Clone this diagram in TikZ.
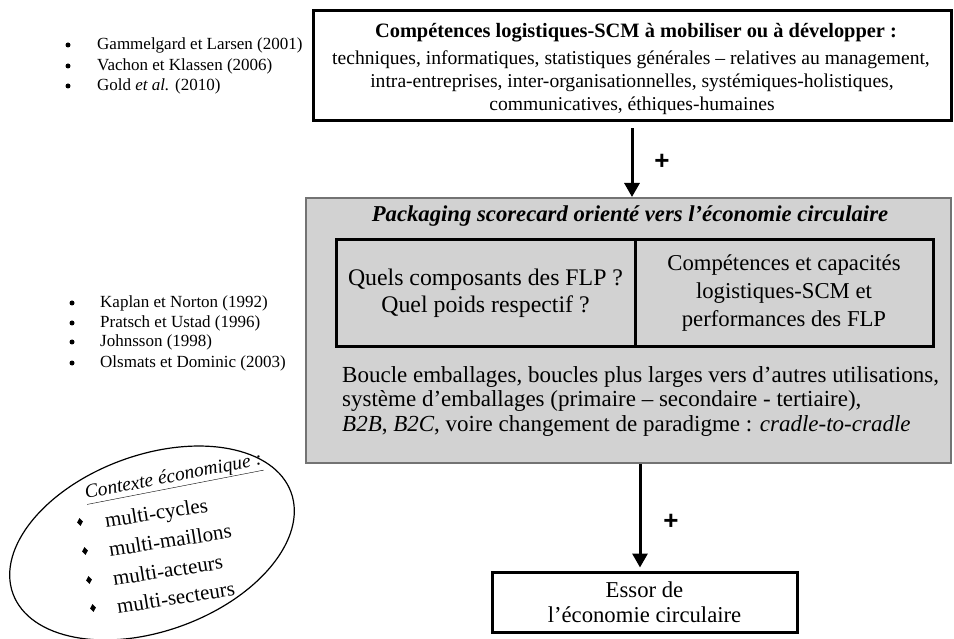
\documentclass[tikz,border=0pt]{standalone}
\usepackage{fontspec}
\setmainfont{Liberation Serif}
\newfontfamily\plusfont{Liberation Sans}
\usetikzlibrary{arrows.meta,shapes.geometric}
\definecolor{boxgray}{RGB}{210,210,210}
\definecolor{edgegray}{RGB}{115,115,115}
\begin{document}
\begin{tikzpicture}[x=1pt,y=-1pt,
  reftext/.style={font=\fontsize{17}{20}\selectfont, anchor=west, inner sep=0pt},
  refbullet/.style={circle, fill=black, minimum size=5pt, inner sep=0pt},
  blackbox/.style={draw=black, line width=3pt, inner sep=0pt, align=center},
  topline/.style={font=\fontsize{19.6}{22}\selectfont, anchor=base, inner sep=0pt},
  arrowline/.style={line width=3pt, -{Triangle[length=14pt,width=15pt]}},
  plussign/.style={font=\plusfont\fontsize{26}{26}\selectfont\bfseries, inner sep=0pt},
  ctxtext/.style={font=\fontsize{21}{24}\selectfont, anchor=base west, rotate=9, inner sep=0pt},
  diam/.style={fill=black, diamond, minimum width=6pt, minimum height=8pt, inner sep=0pt, rotate=9}
]
\useasboundingbox (0,0) rectangle (954,639);

% left reference lists
\node[refbullet] (b1) at (68,45) {};
\node[refbullet] (b2) at (68,66) {};
\node[refbullet] (b3) at (68,86) {};
\node[reftext] (r1) at (97,45) {Gammelgard et Larsen (2001)};
\node[reftext] (r2) at (97,66) {Vachon et Klassen (2006)};
\node[reftext] (r3) at (97,86) {Gold \textit{et al.} (2010)};

\node[refbullet] (b4) at (72,303) {};
\node[refbullet] (b5) at (72,323) {};
\node[refbullet] (b6) at (72,342) {};
\node[refbullet] (b7) at (72,363) {};
\node[reftext] (r4) at (100,303) {Kaplan et Norton (1992)};
\node[reftext] (r5) at (100,323) {Pratsch et Ustad (1996)};
\node[reftext] (r6) at (100,342) {Johnsson (1998)};
\node[reftext] (r7) at (100,363) {Olsmats et Dominic (2003)};

% top box
\node[blackbox, minimum width=638pt, minimum height=110pt] (top) at (632,66) {};
\node[topline, font=\fontsize{20.4}{22}\selectfont\bfseries] (t1) at (636,38)
  {Compétences logistiques-SCM à mobiliser ou à développer :};
\node[topline] (t2) at (631,65) {techniques, informatiques, statistiques générales – relatives au management,};
\node[topline] (t3) at (632,88) {intra-entreprises, inter-organisationnelles, systémiques-holistiques,};
\node[topline] (t4) at (632,111) {communicatives, éthiques-humaines};

% gray box
\node[fill=boxgray, draw=edgegray, line width=2pt, minimum width=645pt, minimum height=265pt, inner sep=0pt] (gray) at (628.5,330.5) {};
\node[font=\fontsize{22.7}{26}\selectfont\bfseries\itshape, inner sep=0pt] (gtitle) at (630,216)
  {Packaging scorecard orienté vers l’économie circulaire};
\node[blackbox, minimum width=299pt, minimum height=107pt, font=\fontsize{23.8}{27}\selectfont] (ql) at (485.5,293.5)
  {Quels composants des FLP ?\\Quel poids respectif ?};
\node[blackbox, minimum width=298pt, minimum height=107pt, font=\fontsize{22.7}{28}\selectfont] (qr) at (784,293.5)
  {Compétences et capacités\\logistiques-SCM et\\performances des FLP};
\node[anchor=north west, align=left, inner sep=0pt, font=\fontsize{23}{24.5}\selectfont] (loop) at (342,366)
  {Boucle emballages, boucles plus larges vers d’autres utilisations,\\
   système d’emballages (primaire – secondaire - tertiaire),\\
   \textit{B2B}, \textit{B2C}, voire changement de paradigme : \textit{cradle-to-cradle}};

% bottom box
\node[blackbox, minimum width=305pt, minimum height=60pt, font=\fontsize{22.7}{25}\selectfont] (ess) at (644.5,602)
  {Essor de\\l’économie circulaire};

% arrows
\draw[arrowline, shorten <=6pt] (top.south) -- (top.south |- gray.north);
\draw[arrowline, shorten >=3pt] (gray.south -| 640,0) -- (ess.north -| 640,0);
\node[plussign] (p1) at (662,162) {+};
\node[plussign] (p2) at (671,522) {+};

% context ellipse
\node[draw, line width=1.2pt, ellipse, minimum width=296pt, minimum height=176pt, rotate=20, inner sep=0pt] (ctx) at (152,543) {};
\node[ctxtext, rotate=2, font=\fontsize{19.5}{22}\selectfont] (c0) at (86,499) {\itshape\underline{Contexte économique :}};
\node[ctxtext] (c1) at (106,528) {multi-cycles};
\node[ctxtext] (c2) at (110,557) {multi-maillons};
\node[ctxtext] (c3) at (114,586) {multi-acteurs};
\node[ctxtext] (c4) at (118,614) {multi-secteurs};
\node[diam] (d1) at (80,522) {};
\node[diam] (d2) at (85,551) {};
\node[diam] (d3) at (89,580) {};
\node[diam] (d4) at (93,608) {};
\end{tikzpicture}
\end{document}
